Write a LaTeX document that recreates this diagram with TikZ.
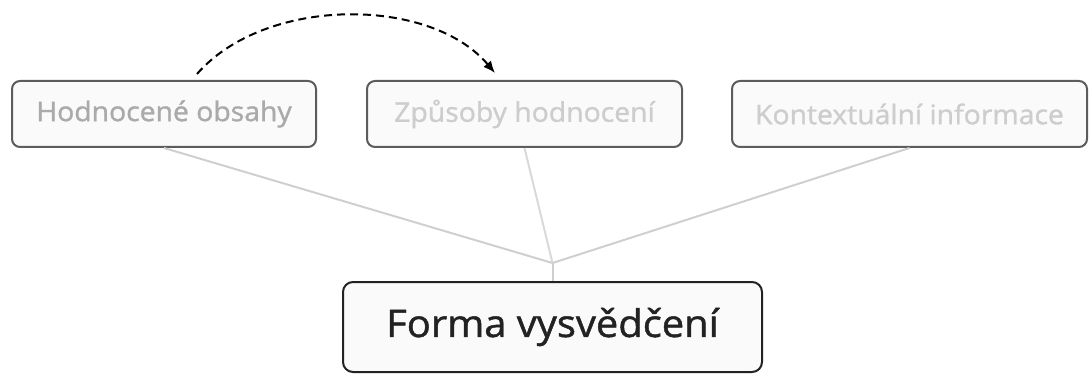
\documentclass[tikz,border=0pt]{standalone}
\usepackage{fontspec}
\setmainfont{Open Sans}[FakeBold=1.2, FakeStretch=1.05]
\usetikzlibrary{arrows.meta}

\definecolor{boxline}{HTML}{5C5C5C}
\definecolor{boxfill}{HTML}{FAFAFA}
\definecolor{textmid}{HTML}{AAAAAA}
\definecolor{textlight}{HTML}{CDCDCD}
\definecolor{linkgray}{HTML}{CFCFCF}
\definecolor{darktext}{HTML}{222222}

\tikzset{
	topic/.style={draw=boxline, fill=boxfill, line width=2pt, rounded corners=8pt,
		minimum height=66pt, inner sep=0pt, font=\fontsize{27}{31}\selectfont},
	mainbox/.style={draw=darktext, fill=boxfill, line width=2pt, rounded corners=10pt,
		minimum width=419pt, minimum height=90pt, inner sep=0pt,
		text=darktext, font=\fontsize{38}{44}\selectfont},
	link/.style={draw=linkgray, line width=2pt},
	flow/.style={draw=black, line width=2pt, dash pattern=on 8pt off 5pt, -{Latex[length=12pt,width=10pt]}}
}

\begin{document}
\begin{tikzpicture}[x=1pt, y=-1pt]
	\useasboundingbox (0,0) rectangle (1089,374);
	\node[topic, minimum width=304pt, text=textmid] (hodn) at (164,114) {Hodnocené obsahy};
	\node[topic, minimum width=315pt, text=textlight] (zpus) at (524.5,114) {Způsoby hodnocení};
	\node[topic, minimum width=355pt, text=textlight] (kont) at (909.5,114) {Kontextuální informace};
	\node[mainbox] (forma) at (552.5,327) {Forma vysvědčení};
	\coordinate (join) at (552.5,263);
	% spojnice
	\draw[link] (hodn.south) -- (join);
	\draw[link, draw=linkgray!80] (zpus.south) -- (join);
	\draw[link] (kont.south) -- (join);
	\draw[link] (join) -- (forma.north);
	% sipka
	\draw[flow] ([xshift=33pt, yshift=6pt]hodn.north) .. controls (265,-4) and (430,-4) .. ([xshift=-29.5pt, yshift=7pt]zpus.north);
\end{tikzpicture}
\end{document}
